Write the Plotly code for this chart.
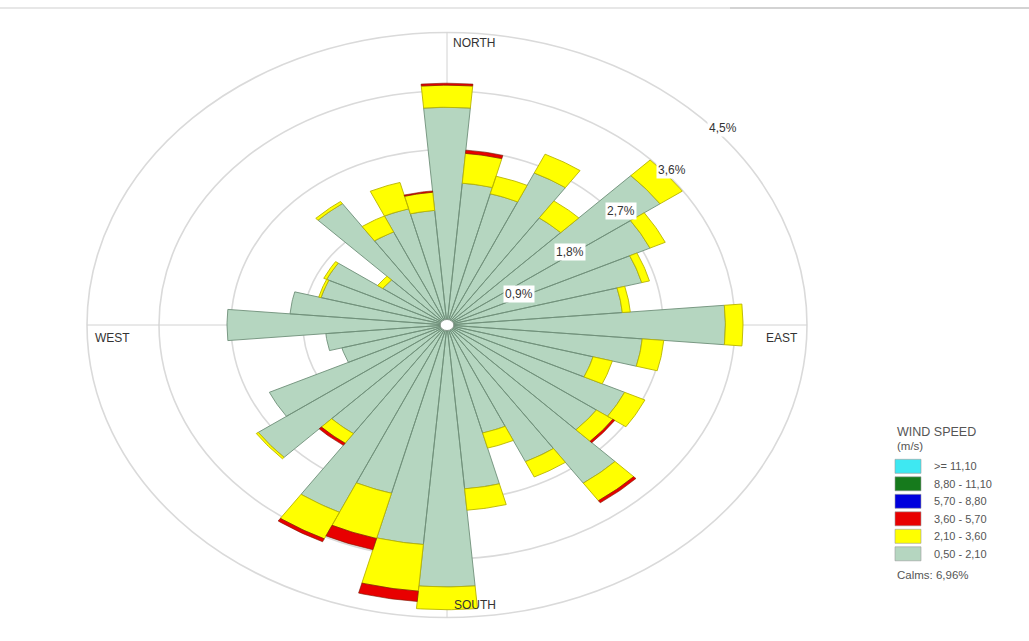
import numpy as np
import plotly.graph_objects as go

# Wind direction sectors (degrees clockwise from north), 10-degree bins
directions = [0, 10, 20, 30, 40, 50, 60, 70, 80, 90, 100, 110,
              120, 130, 140, 150, 160, 170, 180, 190, 200, 210, 220, 230,
              240, 250, 260, 270, 280, 290, 300, 310, 320, 330, 340, 350]

# Frequency (%) per direction for each wind speed class (m/s)
spd_050_210 = [3.35, 2.19, 2.09, 2.58, 2.01, 3.25, 2.80, 2.52, 2.20, 3.48, 2.45, 1.89,
               2.45, 2.28, 2.97, 2.32, 1.72, 2.53, 4.03, 3.39, 2.68, 3.18, 2.04, 2.88,
               2.45, 1.36, 1.52, 2.75, 1.97, 1.63, 1.66, 0.98, 2.28, 1.58, 1.85, 1.77]
spd_210_360 = [0.34, 0.46, 0.28, 0.32, 0.32, 0.34, 0.21, 0.10, 0.10, 0.22, 0.27, 0.25,
               0.28, 0.25, 0.33, 0.26, 0.24, 0.33, 0.35, 0.72, 0.72, 0.45, 0.18, 0.03,
               0.00, 0.00, 0.00, 0.00, 0.00, 0.03, 0.04, 0.08, 0.04, 0.27, 0.42, 0.28]
spd_360_570 = [0.03, 0.05, 0.00, 0.00, 0.00, 0.00, 0.00, 0.00, 0.00, 0.00, 0.00, 0.00,
               0.00, 0.03, 0.04, 0.00, 0.00, 0.00, 0.00, 0.16, 0.18, 0.05, 0.04, 0.00,
               0.00, 0.00, 0.00, 0.00, 0.00, 0.00, 0.00, 0.00, 0.00, 0.00, 0.00, 0.02]
spd_570_880 = [0, 0, 0, 0, 0, 0, 0, 0, 0, 0, 0, 0,
               0, 0, 0, 0, 0, 0, 0, 0, 0, 0, 0, 0,
               0, 0, 0, 0, 0, 0, 0, 0, 0, 0, 0, 0]
spd_880_1110 = [0, 0, 0, 0, 0, 0, 0, 0, 0, 0, 0, 0,
                0, 0, 0, 0, 0, 0, 0, 0, 0, 0, 0, 0,
                0, 0, 0, 0, 0, 0, 0, 0, 0, 0, 0, 0]
spd_ge_1110 = [0, 0, 0, 0, 0, 0, 0, 0, 0, 0, 0, 0,
               0, 0, 0, 0, 0, 0, 0, 0, 0, 0, 0, 0,
               0, 0, 0, 0, 0, 0, 0, 0, 0, 0, 0, 0]

speed_labels = ["0,50 - 2,10", "2,10 - 3,60", "3,60 - 5,70",
                "5,70 - 8,80", "8,80 - 11,10", ">= 11,10"]
speed_fills = ["#b5d6c0", "#ffff00", "#e80000", "#0000dd", "#167a1c", "#3ee8f2"]
speed_edges = ["#6f9079", "#b9b400", "#7a1800", "#00008a", "#0c4a10", "#1fa9b0"]
edge_widths = [0.9, 0.9, 0.6, 0.8, 0.8, 0.8]

ring_values = [0.9, 1.8, 2.7, 3.6, 4.5]
ring_labels = ["0,9%", "1,8%", "2,7%", "3,6%", "4,5%"]
calms_text = "Calms: 6,96%"

W, H = 1029, 641
CX, CY = 447, 325          # rose centre in pixels
KX, KY = 80.0, 65.0        # pixels per percent, horizontal / vertical
SECTOR = 10.0

series = [spd_050_210, spd_210_360, spd_360_570, spd_570_880, spd_880_1110, spd_ge_1110]

fig = go.Figure()

# stacked wedges, one trace per speed class
cum = np.zeros(len(directions))
for vals, fill, edge, lw in zip(series, speed_fills, speed_edges, edge_widths):
    vals = np.asarray(vals, dtype=float)
    xs, ys = [], []
    for i, d in enumerate(directions):
        v = vals[i]
        if v <= 0:
            continue
        r0, r1 = cum[i], cum[i] + v
        a = np.radians(np.linspace(d - SECTOR / 2, d + SECTOR / 2, 15))
        xo, yo = r1 * np.sin(a), r1 * np.cos(a)
        xi, yi = r0 * np.sin(a[::-1]), r0 * np.cos(a[::-1])
        xs += list(xo) + list(xi) + [xo[0], None]
        ys += list(yo) + list(yi) + [yo[0], None]
    cum += vals
    if xs:
        fig.add_trace(go.Scatter(
            x=xs, y=ys, mode="lines", fill="toself", fillcolor=fill,
            line=dict(color=edge, width=lw), hoverinfo="skip", showlegend=False))

shapes = []
rmax = ring_values[-1]
# frequency rings
for r in ring_values:
    shapes.append(dict(type="circle", xref="x", yref="y", x0=-r, x1=r, y0=-r, y1=r,
                       line=dict(color="#dadada", width=1.6), layer="below"))
# compass axes
shapes.append(dict(type="line", xref="x", yref="y", x0=-rmax, x1=rmax, y0=0, y1=0,
                   line=dict(color="#d2d2d2", width=1), layer="below"))
shapes.append(dict(type="line", xref="x", yref="y", x0=0, x1=0, y0=-rmax, y1=rmax,
                   line=dict(color="#d2d2d2", width=1), layer="below"))
# calm hole in the middle
hole = 0.085
shapes.append(dict(type="circle", xref="x", yref="y", x0=-hole, x1=hole, y0=-hole, y1=hole,
                   fillcolor="white", line=dict(color="#8a9a8e", width=1), layer="above"))
# thin rule across the top
shapes.append(dict(type="line", xref="paper", yref="paper", x0=0, x1=730 / W,
                   y0=1 - 8 / H, y1=1 - 8 / H, line=dict(color="#cfcfcf", width=1.2)))
shapes.append(dict(type="line", xref="paper", yref="paper", x0=730 / W, x1=1,
                   y0=1 - 8 / H, y1=1 - 8 / H, line=dict(color="#a8a8a8", width=1.2)))

annotations = []
txt_font = dict(family="Liberation Sans, Arial, sans-serif", size=12, color="#333333")

# ring labels along the north-east diagonal
for r, lab in zip(ring_values, ring_labels):
    ang = np.radians(45)
    annotations.append(dict(x=r * np.sin(ang), y=r * np.cos(ang), xref="x", yref="y",
                            text=lab, showarrow=False, xanchor="left", yanchor="middle",
                            xshift=5, yshift=-10, bgcolor="white", borderpad=1,
                            font=dict(family="Liberation Sans, Arial, sans-serif",
                                      size=12, color="#333333")))

# compass point names
annotations += [
    dict(x=0, y=rmax, xref="x", yref="y", text="NORTH", showarrow=False,
         xanchor="left", yanchor="top", xshift=4, yshift=-1, font=txt_font),
    dict(x=0, y=-rmax, xref="x", yref="y", text="SOUTH", showarrow=False,
         xanchor="left", yanchor="bottom", xshift=5, yshift=4, font=txt_font),
    dict(x=rmax, y=0, xref="x", yref="y", text="EAST", showarrow=False,
         xanchor="right", yanchor="top", xshift=-7, yshift=-4, font=txt_font),
    dict(x=-rmax, y=0, xref="x", yref="y", text="WEST", showarrow=False,
         xanchor="left", yanchor="top", xshift=6, yshift=-4, font=txt_font),
]

# legend block
leg_font = dict(family="Liberation Sans, Arial, sans-serif", size=11, color="#555555")
LX = 895
annotations.append(dict(x=LX / W, y=1 - 432 / H, xref="paper", yref="paper",
                        text="WIND SPEED", showarrow=False, xanchor="left", yanchor="middle",
                        font=dict(family="Liberation Sans, Arial, sans-serif",
                                  size=12.5, color="#555555")))
annotations.append(dict(x=LX / W, y=1 - 446 / H, xref="paper", yref="paper",
                        text="(m/s)", showarrow=False, xanchor="left", yanchor="middle",
                        font=dict(family="Liberation Sans, Arial, sans-serif",
                                  size=11.5, color="#555555")))
order = list(range(len(speed_labels)))[::-1]
for k, idx in enumerate(order):
    top = 459.3 + k * 17.5
    shapes.append(dict(type="rect", xref="paper", yref="paper",
                       x0=LX / W, x1=(LX + 26) / W, y0=1 - (top + 14) / H, y1=1 - top / H,
                       fillcolor=speed_fills[idx], line=dict(color="#9a9a9a", width=0.6)))
    annotations.append(dict(x=(LX + 37) / W, y=1 - (top + 7) / H, xref="paper", yref="paper",
                            text=speed_labels[idx], showarrow=False, xanchor="left",
                            yanchor="middle", font=leg_font))
annotations.append(dict(x=LX / W, y=1 - 575 / H, xref="paper", yref="paper",
                        text=calms_text, showarrow=False, xanchor="left", yanchor="middle",
                        font=dict(family="Liberation Sans, Arial, sans-serif",
                                  size=11.5, color="#555555")))

fig.update_layout(
    width=W, height=H, autosize=False,
    margin=dict(l=0, r=0, t=0, b=0),
    paper_bgcolor="white", plot_bgcolor="white",
    xaxis=dict(range=[-CX / KX, (W - CX) / KX], visible=False, fixedrange=True),
    yaxis=dict(range=[-(H - CY) / KY, CY / KY], visible=False, fixedrange=True),
    shapes=shapes, annotations=annotations, showlegend=False,
)

fig.write_html("out.html")
